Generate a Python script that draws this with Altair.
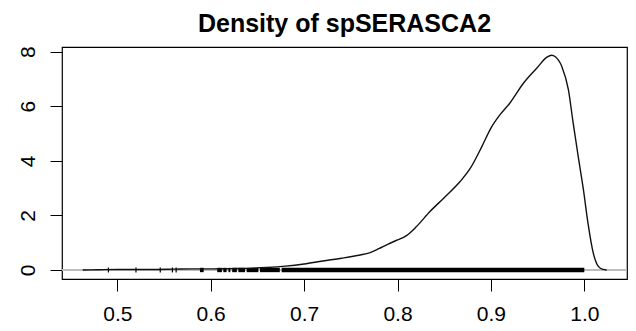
import altair as alt
import pandas as pd

# Density curve
dens_x = [0.463, 0.48, 0.50, 0.52, 0.54, 0.56, 0.58, 0.60, 0.62, 0.64, 0.66, 0.68,
          0.70, 0.72, 0.74, 0.76, 0.77, 0.78, 0.79, 0.80, 0.81, 0.82, 0.835, 0.85,
          0.867, 0.878, 0.89, 0.90, 0.91, 0.92, 0.935, 0.949, 0.96, 0.965, 0.969,
          0.976, 0.983, 0.988, 0.9935, 0.999, 1.004, 1.0096, 1.015, 1.02, 1.024]
dens_y = [0.0, 0.01, 0.02, 0.02, 0.02, 0.03, 0.04, 0.04, 0.05, 0.06, 0.09, 0.14,
          0.22, 0.33, 0.43, 0.55, 0.63, 0.78, 0.95, 1.10, 1.27, 1.58, 2.15, 2.65,
          3.24, 3.73, 4.5, 5.2, 5.7, 6.1, 6.85, 7.39, 7.8, 7.87, 7.81,
          7.45, 6.6, 5.4, 4.15, 2.95, 1.7, 0.62, 0.13, 0.02, 0.0]

# Rug: isolated observations and dense clusters (start, end)
rug_single = [0.4905, 0.520, 0.546, 0.559, 0.563]
rug_start = [0.5885, 0.607, 0.6135, 0.619, 0.623, 0.6296, 0.6385, 0.6528, 0.676]
rug_end = [0.5925, 0.612, 0.617, 0.621, 0.628, 0.6367, 0.651, 0.674, 1.0]

x_ticks = [0.5, 0.6, 0.7, 0.8, 0.9, 1.0]
y_ticks = [0, 2, 4, 6, 8]
title_text = "Density of spSERASCA2"

FONT = "Liberation Sans"

dens_df = pd.DataFrame({"x": dens_x, "y": dens_y})
single_df = pd.DataFrame({"x": rug_single})
clus_df = pd.DataFrame({"x": rug_start, "x2": rug_end})

xscale = alt.Scale(domain=[0.4408, 1.0457], nice=False, zero=False)
yscale = alt.Scale(domain=[-0.33, 8.17], nice=False, zero=False)

xaxis = alt.Axis(values=x_ticks, format=".1f", title=None, domain=False, grid=False,
                 tickSize=12, tickColor="black", tickWidth=1,
                 labelFont=FONT, labelFontSize=21, labelColor="black",
                 labelPadding=12, labelFlush=False)
yaxis = alt.Axis(values=y_ticks, format="d", title=None, domain=False, grid=False,
                 tickSize=12, tickColor="black", tickWidth=1,
                 labelFont=FONT, labelFontSize=21, labelColor="black",
                 labelAngle=270, labelAlign="center", labelBaseline="middle",
                 labelPadding=22, labelFlush=False)

zero_line = alt.Chart(dens_df).mark_rule(color="#bebebe", strokeWidth=1).encode(
    y=alt.datum(0, scale=yscale, axis=yaxis)
)

curve = alt.Chart(dens_df).mark_line(color="#111111", strokeWidth=1.4,
                                     interpolate="monotone").encode(
    x=alt.X("x:Q", scale=xscale, axis=xaxis),
    y=alt.Y("y:Q", scale=yscale, axis=yaxis),
)

ticks = alt.Chart(single_df).mark_rule(color="black", strokeWidth=1.2).encode(
    x=alt.X("x:Q", scale=xscale, axis=xaxis),
    y=alt.datum(-0.09),
    y2=alt.datum(0.09),
)

clusters = alt.Chart(clus_df).mark_rect(color="black").encode(
    x=alt.X("x:Q", scale=xscale, axis=xaxis),
    x2="x2:Q",
    y=alt.datum(-0.08),
    y2=alt.datum(0.08),
)

chart = alt.layer(zero_line, ticks, clusters, curve).properties(
    width=565,
    height=232,
    padding={"left": 54, "top": 39, "right": 1, "bottom": 44},
    autosize=alt.AutoSizeParams(type="none"),
    title=alt.TitleParams(title_text, font=FONT, fontSize=25, fontWeight="bold",
                          color="black", anchor="middle", frame="group",
                          baseline="alphabetic", offset=-11),
).configure_view(stroke="black", strokeWidth=1.2)

chart.save("out.html", embed_options={"renderer": "svg", "actions": False})
